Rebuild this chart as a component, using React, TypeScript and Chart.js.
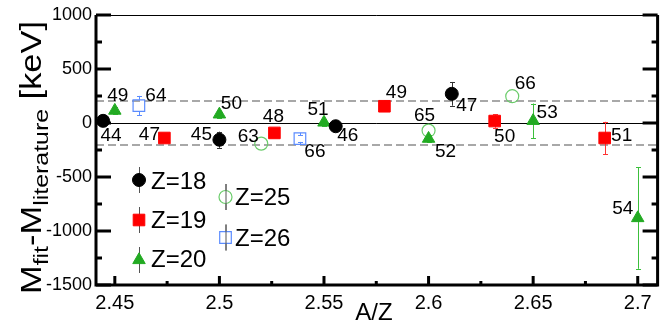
import { useEffect, useRef } from 'react';
import { Chart, registerables } from 'chart.js';
import { drawPoint } from 'chart.js/helpers';

Chart.register(...registerables);

// ---------------- data ----------------
const z18X = [2.4444, 2.5, 2.5556, 2.6111];
const z18Y = [20, -155, -30, 270];
const z18Err = [30, 75, 30, 110];
const z18A = ['44', '45', '46', '47'];

const z19X = [2.4737, 2.5263, 2.5789, 2.6316, 2.6842];
const z19Y = [-139, -92, 155, 18, -139];
const z19Err = [25, 30, 30, 62, 150];
const z19A = ['47', '48', '49', '50', '51'];

const z20X = [2.45, 2.5, 2.55, 2.6, 2.65, 2.7];
const z20Y = [115, 80, 5, -145, 20, -880];
const z20Err = [30, 30, 30, 30, 160, 470];
const z20A = ['49', '50', '51', '52', '53', '54'];

const z25X = [2.52, 2.6, 2.64];
const z25Y = [-191, -70, 248];
const z25Err = [0, 0, 0];
const z25A = ['63', '65', '66'];

const z26X = [2.4615, 2.5385];
const z26Y = [161, -145];
const z26Err = [90, 30];
const z26A = ['64', '66'];

const seriesNames = ['Z=18', 'Z=19', 'Z=20', 'Z=25', 'Z=26'];

const xTickValues = [2.45, 2.5, 2.55, 2.6, 2.65, 2.7];
const xTickLabels = ['2.45', '2.5', '2.55', '2.6', '2.65', '2.7'];
const xMinorTicks = [2.475, 2.525, 2.575, 2.625, 2.675];
const yTickValues = [1000, 500, 0, -500, -1000, -1500];
const yTickLabels = ['1000', '500', '0', '-500', '-1000', '-1500'];
const yMinorTicks = [750, 250, -250, -750, -1250];
const bandLines = [200, -200];
const zeroLine = 0;

// ---------------- styles / layout ----------------
const FONT = '"Liberation Sans", Arial, Helvetica, sans-serif';

const styles = [
  { pointStyle: 'circle', radius: 6.5, fill: '#000000', stroke: '#000000', bw: 1, err: '#333333', gap: 0 },
  { pointStyle: 'rect', radius: 8.2, fill: '#ff0000', stroke: '#ff0000', bw: 1, err: '#ff3333', gap: 0 },
  { pointStyle: 'triangle', radius: 7.2, fill: '#22aa22', stroke: '#22aa22', bw: 1, err: '#3cbf3c', gap: 0 },
  { pointStyle: 'circle', radius: 6.5, fill: 'rgba(0,0,0,0)', stroke: '#6acc6a', bw: 1.2, err: '#6acc6a', gap: 6.5 },
  { pointStyle: 'rect', radius: 8.2, fill: 'rgba(0,0,0,0)', stroke: '#5b8cff', bw: 1.2, err: '#5b8cff', gap: 5.8 },
];

// text offsets (px) of the mass-number labels relative to each marker
const labelOffsets = [
  [[8, 14], [-18, -6], [12, 9], [15, 11]],
  [[-15, -4], [-1, -17], [12, -14], [10, 15], [17, -3]],
  [[3, -16], [12, -12], [-6, -14], [17, 12], [14, -9], [-15, -10]],
  [[-13, -8], [-4, -16], [13, -13]],
  [[17, -11], [15, 12]],
];

const legendPos = [
  { mx: 139, my: 180, tx: 151, ty: 181 },
  { mx: 139, my: 220, tx: 151, ty: 220.5 },
  { mx: 139, my: 260, tx: 151, ty: 259.5 },
  { mx: 225.5, my: 197, tx: 235, ty: 197.5 },
  { mx: 225.5, my: 237.5, tx: 235, ty: 238 },
];

const seriesX = [z18X, z19X, z20X, z25X, z26X];
const seriesY = [z18Y, z19Y, z20Y, z25Y, z26Y];
const seriesErr = [z18Err, z19Err, z20Err, z25Err, z26Err];
const seriesA = [z18A, z19A, z20A, z25A, z26A];

const decorPlugin = {
  id: 'decor',
  beforeDatasetsDraw(chart: any) {
    const { ctx, chartArea: a, scales } = chart;
    const x = scales.x, y = scales.y;
    ctx.save();
    // dashed band
    ctx.strokeStyle = '#a8a8a8';
    ctx.lineWidth = 2;
    ctx.setLineDash([8, 4]);
    for (const v of bandLines) {
      const py = Math.round(y.getPixelForValue(v));
      ctx.beginPath();
      ctx.moveTo(a.left, py);
      ctx.lineTo(a.right, py);
      ctx.stroke();
    }
    ctx.setLineDash([]);
    // zero line
    ctx.strokeStyle = '#000';
    ctx.lineWidth = 1;
    const pz = Math.round(y.getPixelForValue(zeroLine)) + 0.5;
    ctx.beginPath();
    ctx.moveTo(a.left, pz);
    ctx.lineTo(a.right, pz);
    ctx.stroke();
    // error bars
    seriesX.forEach((xs, si) => {
      const st = styles[si];
      ctx.strokeStyle = st.err;
      ctx.lineWidth = 1;
      xs.forEach((xv, i) => {
        const e = seriesErr[si][i];
        if (!e) return;
        const px = Math.round(x.getPixelForValue(xv)) + 0.5;
        const pc = y.getPixelForValue(seriesY[si][i]);
        const pt = y.getPixelForValue(seriesY[si][i] + e);
        const pb = y.getPixelForValue(seriesY[si][i] - e);
        ctx.beginPath();
        if (st.gap > 0) {
          ctx.moveTo(px, pt);
          ctx.lineTo(px, pc - st.gap);
          ctx.moveTo(px, pc + st.gap);
          ctx.lineTo(px, pb);
        } else {
          ctx.moveTo(px, pt);
          ctx.lineTo(px, pb);
        }
        ctx.moveTo(px - 2.5, Math.round(pt) + 0.5);
        ctx.lineTo(px + 2.5, Math.round(pt) + 0.5);
        ctx.moveTo(px - 2.5, Math.round(pb) + 0.5);
        ctx.lineTo(px + 2.5, Math.round(pb) + 0.5);
        ctx.stroke();
      });
    });
    ctx.restore();
  },
  afterDatasetsDraw(chart: any) {
    const { ctx, chartArea: a, scales } = chart;
    const x = scales.x, y = scales.y;
    ctx.save();
    // mass-number labels
    ctx.fillStyle = '#000';
    ctx.font = `19px ${FONT}`;
    ctx.textAlign = 'center';
    ctx.textBaseline = 'middle';
    seriesX.forEach((xs, si) => {
      xs.forEach((xv, i) => {
        const px = x.getPixelForValue(xv);
        const py = y.getPixelForValue(seriesY[si][i]);
        const [dx, dy] = labelOffsets[si][i];
        ctx.fillText(seriesA[si][i], px + dx, py + dy + 1);
      });
    });

    // frame
    ctx.strokeStyle = '#000';
    ctx.lineWidth = 1;
    ctx.beginPath();
    ctx.moveTo(a.left, a.top + 0.5);
    ctx.lineTo(a.right, a.top + 0.5);
    ctx.stroke();
    ctx.lineWidth = 3;
    ctx.beginPath();
    ctx.moveTo(a.left, a.top);
    ctx.lineTo(a.left, a.bottom);
    ctx.lineTo(a.right, a.bottom);
    ctx.lineTo(a.right, a.top);
    ctx.stroke();

    // ticks (inside)
    ctx.lineWidth = 3;
    ctx.beginPath();
    for (const v of yTickValues) {
      const py = y.getPixelForValue(v);
      ctx.moveTo(a.left, py); ctx.lineTo(a.left + 15, py);
      ctx.moveTo(a.right, py); ctx.lineTo(a.right - 15, py);
    }
    for (const v of yMinorTicks) {
      const py = y.getPixelForValue(v);
      ctx.moveTo(a.left, py); ctx.lineTo(a.left + 6, py);
      ctx.moveTo(a.right, py); ctx.lineTo(a.right - 6, py);
    }
    for (const v of xTickValues) {
      const px = x.getPixelForValue(v);
      ctx.moveTo(px, a.bottom); ctx.lineTo(px, a.bottom - 9);
    }
    for (const v of xMinorTicks) {
      const px = x.getPixelForValue(v);
      ctx.moveTo(px, a.bottom); ctx.lineTo(px, a.bottom - 4);
    }
    ctx.stroke();

    // legend
    legendPos.forEach((p, si) => {
      const st = styles[si];
      ctx.strokeStyle = '#555';
      ctx.lineWidth = 1;
      ctx.beginPath();
      ctx.moveTo(p.mx + 0.5, p.my - 13);
      ctx.lineTo(p.mx + 0.5, p.my + 13);
      ctx.stroke();
      ctx.fillStyle = st.fill;
      ctx.strokeStyle = st.stroke;
      ctx.lineWidth = st.bw;
      if (st.fill.startsWith('rgba')) {
        ctx.fillStyle = '#fff';
      }
      drawPoint(ctx, { pointStyle: st.pointStyle, radius: st.radius, rotation: 0, borderWidth: st.bw } as any, p.mx, p.my);
      if (st.fill.startsWith('rgba')) {
        ctx.strokeStyle = '#555';
        ctx.lineWidth = 1;
        ctx.beginPath();
        ctx.moveTo(p.mx + 0.5, p.my - 13);
        ctx.lineTo(p.mx + 0.5, p.my + 13);
        ctx.stroke();
      }
      ctx.fillStyle = '#000';
      ctx.font = `24px ${FONT}`;
      ctx.textAlign = 'left';
      ctx.textBaseline = 'middle';
      ctx.fillText(seriesNames[si], p.tx, p.ty + 1);
    });

    // x title
    ctx.fillStyle = '#000';
    ctx.font = `24px ${FONT}`;
    ctx.textAlign = 'center';
    ctx.textBaseline = 'alphabetic';
    ctx.fillText('A/Z', 374, 320);

    // y title with subscripts
    const big = `29px ${FONT}`;
    const small = `21px ${FONT}`;
    const segs: [string, string, number][] = [
      ['M', big, 0], ['fit', small, 7], ['-M', big, 0], ['literature', small, 7], [' [keV]', big, 0],
    ];
    let total = 0;
    const widths = segs.map(([t, f]) => { ctx.font = f; const w = ctx.measureText(t).width; total += w; return w; });
    const k = 273 / total;
    ctx.translate(41, 294);
    ctx.rotate(-Math.PI / 2);
    ctx.scale(k, 1);
    ctx.textAlign = 'left';
    let cx = 0;
    segs.forEach(([t, f, dy], i) => {
      ctx.font = f;
      ctx.fillText(t, cx, dy);
      cx += widths[i];
    });
    ctx.restore();
  },
};

export default function App() {
  const ref = useRef<HTMLCanvasElement | null>(null);
  useEffect(() => {
    if (!ref.current) return;
    const datasets = seriesX.map((xs, si) => ({
      label: seriesNames[si],
      data: xs.map((xv, i) => ({ x: xv, y: seriesY[si][i] })),
      showLine: false,
      pointStyle: styles[si].pointStyle as any,
      pointRadius: styles[si].radius,
      pointBackgroundColor: styles[si].fill,
      pointBorderColor: styles[si].stroke,
      pointBorderWidth: styles[si].bw,
      pointHoverRadius: styles[si].radius,
    }));
    const chart = new Chart(ref.current, {
      type: 'scatter',
      data: { datasets },
      plugins: [decorPlugin],
      options: {
        animation: false,
        responsive: false,
        devicePixelRatio: 1,
        layout: { padding: { top: 15, right: 8, left: 0, bottom: 0 } },
        plugins: { legend: { display: false }, tooltip: { enabled: false } },
        scales: {
          x: {
            type: 'linear',
            min: 2.441,
            max: 2.7095,
            grid: { display: false, drawTicks: false },
            border: { display: false },
            afterBuildTicks: (s: any) => { s.ticks = xTickValues.map((v) => ({ value: v })); },
            afterFit: (s: any) => { s.height = 37; },
            ticks: {
              autoSkip: false,
              maxRotation: 0,
              padding: 6,
              color: '#000',
              font: { family: FONT, size: 20 },
              callback: (_v: any, i: number) => xTickLabels[i],
            },
          },
          y: {
            type: 'linear',
            min: -1500,
            max: 1000,
            grid: { display: false, drawTicks: false },
            border: { display: false },
            afterBuildTicks: (s: any) => { s.ticks = yTickValues.map((v) => ({ value: v })); },
            afterFit: (s: any) => { s.width = 96; },
            ticks: {
              autoSkip: false,
              padding: 4,
              color: '#000',
              font: { family: FONT, size: 18 },
              callback: (_v: any, i: number) => yTickLabels[i],
            },
          },
        },
      },
    });
    return () => chart.destroy();
  }, []);
  return (
    <div style={{ position: 'fixed', left: 0, top: 0, width: 667, height: 322, background: '#fff' }}>
      <canvas ref={ref} width={667} height={322} style={{ width: 667, height: 322, display: 'block' }} />
    </div>
  );
}
